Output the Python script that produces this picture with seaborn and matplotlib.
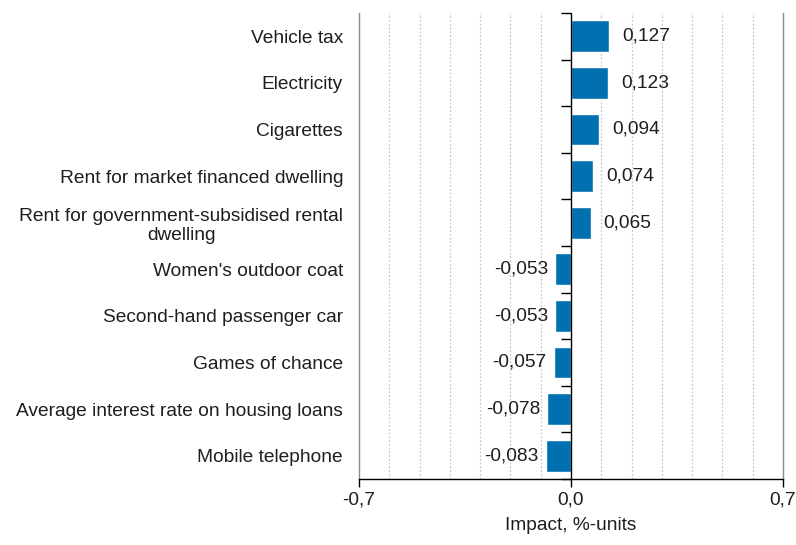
import matplotlib
matplotlib.use("Agg")
import matplotlib.pyplot as plt
from matplotlib.ticker import MultipleLocator, FixedLocator, NullFormatter
import seaborn as sns
import pandas as pd

categories = [
    "Vehicle tax",
    "Electricity",
    "Cigarettes",
    "Rent for market financed dwelling",
    "Rent for government-subsidised rental\ndwelling",
    "Women's outdoor coat",
    "Second-hand passenger car",
    "Games of chance",
    "Average interest rate on housing loans",
    "Mobile telephone",
]
values = [0.127, 0.123, 0.094, 0.074, 0.065, -0.053, -0.053, -0.057, -0.078, -0.083]
x_ticks = [-0.7, 0.0, 0.7]
x_tick_labels = ["-0,7", "0,0", "0,7"]
x_label = "Impact, %-units"

df = pd.DataFrame({"category": categories, "value": values})

sns.set_style("white")
plt.rcParams["font.family"] = ["Liberation Sans", "DejaVu Sans"]
FS = 13.8
TXT = "#1e1e1e"

fig = plt.figure(figsize=(7.96, 5.45), dpi=100)
ax = fig.add_axes([359 / 796, 1 - 479 / 545, (783 - 359) / 796, (479 - 13) / 545])

sns.barplot(data=df, x="value", y="category", orient="h", color="#0070b0",
            width=0.68, saturation=1, ax=ax, zorder=3)

ax.set_xlim(-0.7, 0.7)
ax.set_ylim(len(categories) - 0.5, -0.5)

# grid
ax.xaxis.set_minor_locator(MultipleLocator(0.1))
ax.grid(False)
ax.grid(which="minor", axis="x", color="#c8c8c8", linestyle=(0, (1.5, 1.5)), linewidth=0.9, zorder=0)
for xv in (-0.7, 0.7):
    ax.axvline(xv, color="#8c8c8c", linewidth=1.0, zorder=1, clip_on=False)
ax.axvline(0, color="#000000", linewidth=1.0, zorder=4)

# spines
for s in ("top", "right", "left"):
    ax.spines[s].set_visible(False)
ax.spines["bottom"].set_color("#000000")
ax.spines["bottom"].set_linewidth(1.0)
ax.spines["bottom"].set_zorder(5)

ax.set_xticks(x_ticks)
ax.set_xticklabels(x_tick_labels, fontsize=FS, color=TXT)
ax.tick_params(axis="x", which="major", direction="out", length=6, width=1, color="#000000", pad=3, bottom=True)
ax.tick_params(axis="x", which="minor", length=0)

ax.set_yticks(range(len(categories)))
ax.set_yticklabels(categories, fontsize=FS, color=TXT, multialignment="center")
ax.tick_params(axis="y", length=0, pad=11.5)

ax.set_xlabel(x_label, fontsize=FS, color=TXT, labelpad=6)
ax.set_ylabel("")

# zero axis with category separators
sec = ax.secondary_yaxis(0.5)
for s in sec.spines.values():
    s.set_visible(False)
sec.yaxis.set_major_locator(FixedLocator([i - 0.5 for i in range(len(categories) + 1)]))
sec.yaxis.set_major_formatter(NullFormatter())
sec.tick_params(axis="y", which="both", left=True, right=False, labelleft=False, labelright=False,
                direction="out", length=7, width=1, color="#000000")

# value labels
for i, v in enumerate(values):
    lab = f"{v:.3f}".replace(".", ",")
    if v >= 0:
        ax.annotate(lab, (v, i), xytext=(9, 0), textcoords="offset points",
                    ha="left", va="center", fontsize=FS, color=TXT)
    else:
        ax.annotate(lab, (v, i), xytext=(-5, 0), textcoords="offset points",
                    ha="right", va="center", fontsize=FS, color=TXT)

fig.savefig("out.png", dpi=100)
